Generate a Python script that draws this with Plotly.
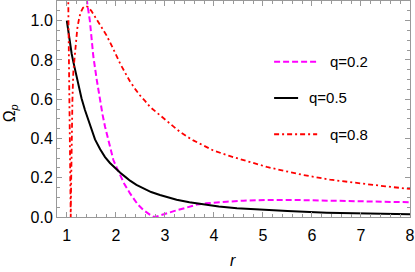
import plotly.graph_objects as go

# q = 0.2 (magenta dashed)
x_q02 = [1.37, 1.41, 1.47, 1.51, 1.54, 1.61, 1.68, 1.73, 1.78, 1.85, 1.95, 2.02, 2.09, 2.18, 2.29, 2.38,
         2.45, 2.56, 2.63, 2.70, 2.76, 2.80, 2.88, 2.95, 3.03, 3.11, 3.20, 3.30, 3.45, 3.55, 3.65, 3.85,
         4.05, 4.26, 4.60, 5.08, 5.60, 6.30, 7.00, 7.50, 8.00]
y_q02 = [1.25, 1.10, 1.00, 0.90, 0.82, 0.70, 0.58, 0.52, 0.46, 0.39, 0.29, 0.25, 0.21, 0.165, 0.12, 0.085,
         0.063, 0.036, 0.022, 0.011, 0.003, 0.0, 0.006, 0.012, 0.018, 0.024, 0.031, 0.038, 0.050, 0.057, 0.063, 0.070,
         0.075, 0.078, 0.083, 0.087, 0.087, 0.084, 0.080, 0.077, 0.075]

# q = 0.5 (black solid)
x_q05 = [1.00, 1.03, 1.06, 1.10, 1.133, 1.167, 1.20, 1.23, 1.27, 1.30, 1.37, 1.44, 1.50, 1.575, 1.68, 1.78,
         1.88, 1.98, 2.09, 2.20, 2.29, 2.42, 2.56, 2.72, 2.90, 3.05, 3.24, 3.50, 3.79, 4.10, 4.47, 5.00,
         5.50, 6.30, 7.00, 7.50, 8.00]
y_q05 = [1.00, 0.945, 0.89, 0.83, 0.79, 0.75, 0.71, 0.675, 0.635, 0.605, 0.545, 0.49, 0.445, 0.395, 0.345, 0.305,
         0.275, 0.250, 0.225, 0.203, 0.185, 0.164, 0.145, 0.127, 0.112, 0.100, 0.088, 0.075, 0.063, 0.053, 0.045, 0.036,
         0.030, 0.022, 0.018, 0.016, 0.014]

# q = 0.8 (red dash-dot)
x_q08 = [1.025, 1.035, 1.05, 1.065, 1.08, 1.09, 1.10, 1.115, 1.133, 1.147, 1.167, 1.18, 1.20, 1.214, 1.25, 1.28,
         1.33, 1.38, 1.43, 1.50, 1.575, 1.68, 1.81, 1.92, 2.00, 2.09, 2.20, 2.29, 2.40, 2.49, 2.60, 2.70,
         2.82, 2.94, 3.05, 3.17, 3.30, 3.45, 3.58, 3.78, 3.98, 4.30, 4.60, 5.08, 5.45, 5.82, 6.37, 6.98,
         7.50, 8.00]
y_q08 = [1.20, 0.90, 0.55, 0.25, 0.0, 0.20, 0.40, 0.60, 0.74, 0.785, 0.85, 0.89, 0.935, 0.96, 1.01, 1.040,
         1.065, 1.075, 1.07, 1.05, 1.02, 0.98, 0.925, 0.87, 0.825, 0.78, 0.73, 0.69, 0.65, 0.62, 0.59, 0.56,
         0.535, 0.51, 0.485, 0.46, 0.435, 0.41, 0.39, 0.365, 0.34, 0.312, 0.29, 0.255, 0.234, 0.214, 0.190, 0.170,
         0.156, 0.143]

legend_labels = ["q=0.2", "q=0.5", "q=0.8"]
colors = ["#FF00FF", "#000000", "#FF0000"]
dashes = ["6px,3px", "solid", "5px,3px,2px,3px"]
widths = [2.0, 2.0, 1.8]

x_ticks = [1, 2, 3, 4, 5, 6, 7, 8]
y_ticks = [0.0, 0.2, 0.4, 0.6, 0.8, 1.0]
y_tick_text = ["0.0", "0.2", "0.4", "0.6", "0.8", "1.0"]

fig = go.Figure()
for xs, ys, name, c, d, w in zip([x_q02, x_q05, x_q08], [y_q02, y_q05, y_q08],
                                 legend_labels, colors, dashes, widths):
    fig.add_trace(go.Scatter(x=xs, y=ys, mode="lines", name=name, showlegend=False,
                             line=dict(color=c, dash=d, width=w)))

# manual legend (matching Mathematica style placement)
leg_y = [0.719, 0.551, 0.383]
leg_x1 = [0.737, 0.683, 0.737]
leg_tx = [0.768, 0.708, 0.768]
for i in range(3):
    fig.add_shape(type="line", xref="paper", yref="paper", x0=0.615, x1=leg_x1[i], y0=leg_y[i], y1=leg_y[i],
                  line=dict(color=colors[i], dash=dashes[i], width=widths[i]))
    fig.add_annotation(xref="paper", yref="paper", x=leg_tx[i], y=leg_y[i], text=legend_labels[i],
                       showarrow=False, xanchor="left", yanchor="middle",
                       font=dict(size=15, color="black", family="Liberation Sans"))

fig.add_annotation(xref="paper", yref="paper", x=-0.133, y=0.48, text="Ω<sub><i>p</i></sub>",
                   textangle=-90, showarrow=False, xanchor="center", yanchor="middle",
                   font=dict(size=16, color="black", family="Liberation Sans"))
fig.add_annotation(xref="paper", yref="paper", x=0.499, y=-0.25, text="<i>r</i>",
                   showarrow=False, xanchor="center", yanchor="bottom",
                   font=dict(size=16, color="black", family="Liberation Sans"))

axis_common = dict(showline=True, linecolor="#999999", linewidth=1, mirror="allticks",
                   ticks="inside", ticklen=5, tickcolor="#999999", tickwidth=1,
                   showgrid=False, zeroline=False,
                   tickfont=dict(size=16, color="black", family="Liberation Sans"))

fig.update_xaxes(range=[0.8, 8], tickvals=x_ticks, ticklabelstandoff=4, ticklabeloverflow="allow", **axis_common,
                 minor=dict(ticks="inside", ticklen=3, dtick=0.2, tick0=0, tickcolor="#999999", showgrid=False))
fig.update_yaxes(range=[0, 1.1], tickvals=y_ticks, ticktext=y_tick_text, **axis_common,
                 minor=dict(ticks="inside", ticklen=3, dtick=0.05, tick0=0, tickcolor="#999999", showgrid=False))

fig.update_layout(width=415, height=272, margin=dict(l=57, r=5, t=1, b=55),
                  plot_bgcolor="white", paper_bgcolor="white", showlegend=False,
                  font=dict(family="Liberation Sans"))

fig.write_html("out.html", config={"displayModeBar": False},
               post_script="document.body.style.margin='0px';document.body.style.padding='0px';"
                           "document.body.style.overflow='hidden';")
